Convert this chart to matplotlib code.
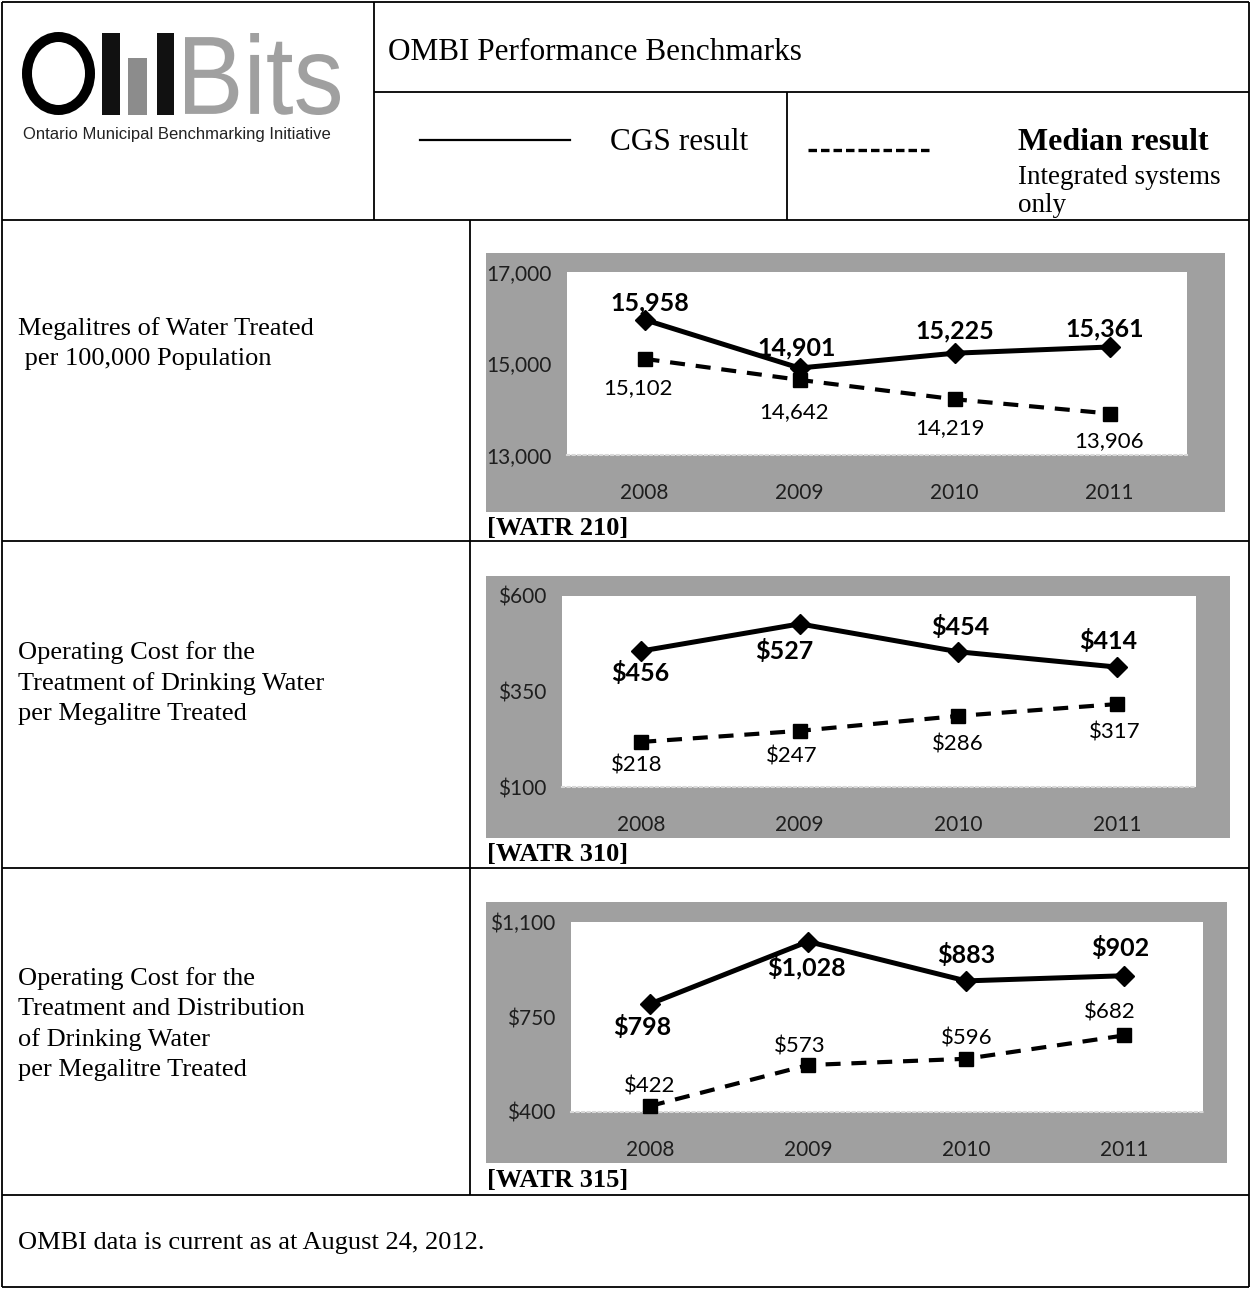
import matplotlib
matplotlib.use("Agg")
import matplotlib.pyplot as plt
from matplotlib.patches import Rectangle, Ellipse, PathPatch
from matplotlib.textpath import TextPath
from matplotlib.font_manager import FontProperties
from matplotlib.transforms import Affine2D

# ---------------- data ----------------
years = ["2008", "2009", "2010", "2011"]

water_cgs = [15958, 14901, 15225, 15361]
water_median = [15102, 14642, 14219, 13906]
water_ticks = [13000, 15000, 17000]
water_tick_labels = ["13,000", "15,000", "17,000"]

treat_cgs = [456, 527, 454, 414]
treat_median = [218, 247, 286, 317]
treat_ticks = [100, 350, 600]
treat_tick_labels = ["$100", "$350", "$600"]

dist_cgs = [798, 1028, 883, 902]
dist_median = [422, 573, 596, 682]
dist_ticks = [400, 750, 1100]
dist_tick_labels = ["$400", "$750", "$1,100"]

measure_names = [
    ["Megalitres of Water Treated", " per 100,000 Population"],
    ["Operating Cost for the", "Treatment of Drinking Water", "per Megalitre Treated"],
    ["Operating Cost for the", "Treatment and Distribution", "of Drinking Water",
     "per Megalitre Treated"],
]
measure_codes = ["[WATR 210]", "[WATR 310]", "[WATR 315]"]

# ---------------- layout (pixels) ----------------
W, H = 1251, 1289
DPI = 100
SERIF = "Liberation Serif"
CHART_FONT = "Lato"
PX2PT = 72.0 / DPI

fig = plt.figure(figsize=(W / DPI, H / DPI), dpi=DPI)
bg = fig.add_axes([0, 0, 1, 1])
bg.set_xlim(0, W)
bg.set_ylim(H, 0)
bg.axis("off")


def hline(y, x0, x1, lw=1.3):
    bg.plot([x0, x1], [y, y], color="black", lw=lw, solid_capstyle="butt")


def vline(x, y0, y1, lw=1.3):
    bg.plot([x, x], [y0, y1], color="black", lw=lw, solid_capstyle="butt")


# table frame
L, R, T, B = 2, 1249, 2, 1287
hline(T, L, R)
hline(B, L, R)
vline(L, T, B)
vline(R, T, B)
hline(92, 374, R)
vline(374, T, 220)
vline(787, 92, 220)
hline(220, L, R)
vline(470, 220, 1195)
for y in (541, 868, 1195):
    hline(y, L, R)

# ---------------- logo ----------------
bg.add_patch(Ellipse((58.5, 73.5), 63, 73, fill=False, ec="black", lw=10 * PX2PT))
bg.add_patch(Rectangle((102, 33), 18, 82, fc="#111111", ec="none"))
bg.add_patch(Rectangle((128, 58), 19, 57, fc="#8c8c8c", ec="none"))
bg.add_patch(Rectangle((157, 33), 17, 82, fc="#111111", ec="none"))

tp = TextPath((0, 0), "Bits", size=100, prop=FontProperties(family="Liberation Sans"))
bb = tp.get_extents()
sx = (340 - 185) / bb.width
sy = (115 - 33) / bb.height
tr = Affine2D().translate(-bb.x0, -bb.y0).scale(sx, -sy).translate(185, 115)
bg.add_patch(PathPatch(tr.transform_path(tp), fc="#a0a0a0", ec="none"))

bg.text(23, 135, "Ontario Municipal Benchmarking Initiative", family="Liberation Sans",
        fontsize=12, color="#222222", va="center", ha="left")

# ---------------- header ----------------
bg.text(388, 52, "OMBI Performance Benchmarks", family=SERIF, fontsize=22.5,
        va="center", ha="left")
bg.plot([420, 570], [140, 140], color="black", lw=1.6)
bg.text(610, 142, "CGS result", family=SERIF, fontsize=22.5, va="center", ha="left")
dash_lw = 2.4
bg.plot([808, 933], [150, 150], color="black", lw=dash_lw,
        dashes=(8.5 * PX2PT / dash_lw, 4 * PX2PT / dash_lw))
bg.text(1018, 142, "Median result", family=SERIF, fontsize=23, fontweight="bold",
        va="center", ha="left")
bg.text(1018, 177, "Integrated systems", family=SERIF, fontsize=19.5,
        va="center", ha="left")
bg.text(1018, 206, "only", family=SERIF, fontsize=19.5, va="center", ha="left")

# ---------------- measure names ----------------
name_rows_y = [[329, 359], [653, 684, 714], [979, 1009, 1040, 1070]]
for lines, ys in zip(measure_names, name_rows_y):
    for txt, y in zip(lines, ys):
        bg.text(18, y, txt, family=SERIF, fontsize=19, va="center", ha="left")

code_y = [528, 855, 1181]
for code, y in zip(measure_codes, code_y):
    bg.text(487, y, code, family=SERIF, fontsize=19, fontweight="bold",
            va="center", ha="left")

bg.text(18, 1243, "OMBI data is current as at August 24, 2012.", family=SERIF,
        fontsize=19, va="center", ha="left")

# ---------------- charts ----------------
charts = [
    dict(cgs=water_cgs, med=water_median, ticks=water_ticks,
         tlabels=water_tick_labels, fmt="{:,}",
         panel=(486, 253, 1225, 512), plot=(567, 272, 1187, 455),
         cgs_off=[(5, -17), (-3, -20), (0, -22), (-5, -18)],
         med_off=[(-7, 29), (-5, 32), (-5, 29), (0, 28)]),
    dict(cgs=treat_cgs, med=treat_median, ticks=treat_ticks,
         tlabels=treat_tick_labels, fmt="${:,}",
         panel=(486, 576, 1230, 838), plot=(562, 596, 1196, 787),
         cgs_off=[(-1, 22), (-15, 27), (2, -25), (-9, -26)],
         med_off=[(-4, 24), (-8, 26), (0, 29), (-2, 28)]),
    dict(cgs=dist_cgs, med=dist_median, ticks=dist_ticks,
         tlabels=dist_tick_labels, fmt="${:,}",
         panel=(486, 902, 1227, 1163), plot=(571, 922, 1203, 1112),
         cgs_off=[(-8, 23), (-2, 26), (0, -26), (-4, -28)],
         med_off=[(0, -20), (-8, -19), (1, -20), (-14, -23)]),
]

PANEL_GRAY = "#a0a0a0"
xs = list(range(len(years)))

for ch in charts:
    px0, py0, px1, py1 = ch["panel"]
    bg.add_patch(Rectangle((px0, py0), px1 - px0, py1 - py0, fc=PANEL_GRAY,
                           ec="none", zorder=0))
    x0, y0, x1, y1 = ch["plot"]
    ax = fig.add_axes([x0 / W, 1 - y1 / H, (x1 - x0) / W, (y1 - y0) / H])
    ax.set_facecolor("white")
    ax.set_xlim(-0.5, len(years) - 0.5)
    ax.set_ylim(ch["ticks"][0], ch["ticks"][-1])
    for s in ("top", "left", "right"):
        ax.spines[s].set_visible(False)
    ax.spines["bottom"].set_color("#d8d8d8")
    ax.spines["bottom"].set_linewidth(1.5)
    ax.spines["bottom"].set_linestyle(":")

    ax.set_yticks(ch["ticks"])
    ax.set_yticklabels(ch["tlabels"], family=CHART_FONT, fontsize=15, color="#1e1e1e")
    ax.set_xticks(xs)
    ax.set_xticklabels(years, family=CHART_FONT, fontsize=15, color="#1e1e1e")
    ax.tick_params(axis="y", length=0, pad=11)
    ax.tick_params(axis="x", length=0, pad=20)

    ax.plot(xs, ch["cgs"], color="black", lw=3.6, marker="D", markersize=10.5,
            zorder=4, clip_on=False)
    ax.plot(xs, ch["med"], color="black", lw=3.0, linestyle=(0, (3.6, 2.6)),
            marker="s", markersize=10, zorder=3, clip_on=False)

    for x, v, (dx, dy) in zip(xs, ch["cgs"], ch["cgs_off"]):
        ax.annotate(ch["fmt"].format(v), (x, v), xytext=(dx * PX2PT, -dy * PX2PT),
                    textcoords="offset points", ha="center", va="center",
                    family=CHART_FONT, fontsize=18, fontweight="bold", zorder=6)
    for x, v, (dx, dy) in zip(xs, ch["med"], ch["med_off"]):
        ax.annotate(ch["fmt"].format(v), (x, v), xytext=(dx * PX2PT, -dy * PX2PT),
                    textcoords="offset points", ha="center", va="center",
                    family=CHART_FONT, fontsize=16, zorder=6)

fig.savefig("out.png", dpi=DPI)
